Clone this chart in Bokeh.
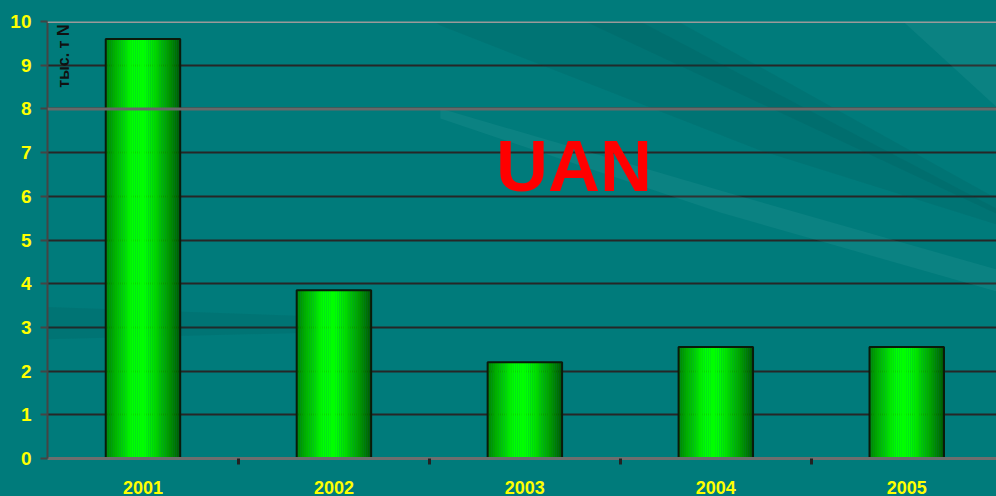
import numpy as np
from bokeh.plotting import figure
from bokeh.models import FixedTicker, Label, Span
from bokeh.embed import file_html
from bokeh.resources import INLINE

# ---- data ----
years = ["2001", "2002", "2003", "2004", "2005"]
values = [9.6, 3.85, 2.2, 2.55, 2.55]
y_ticks = [0, 1, 2, 3, 4, 5, 6, 7, 8, 9, 10]
title_text = "UAN"
unit_label = "тыс. т N"

TEAL = "#007b7b"
W, H = 996, 496

p = figure(width=W, height=H, output_backend="svg", toolbar_location=None,
           x_range=(0.5, 5.47), y_range=(0, 10),
           min_border_left=47, min_border_top=21, min_border_bottom=38, min_border_right=0)
p.background_fill_color = TEAL
p.border_fill_color = TEAL
p.outline_line_color = None

# background streaks (decorative)
def px2d(px, py):
    return 0.5 + (px - 47) / 191.0, (458 - py) / 43.7

def poly(pts):
    xs, ys = zip(*[px2d(a, b) for a, b in pts])
    return list(xs), list(ys)

dark_bands = [
    [(400, 0), (600, 0), (1000, 210), (1000, 225), (760, 150), (440, 25)],
    [(540, 0), (640, 0), (1000, 200), (1000, 215)],
    [(0, 305), (320, 316), (320, 332), (0, 340)],
]
light_bands = [
    [(440, 108), (720, 190), (1000, 270), (1000, 292), (720, 212), (440, 118)],
    [(880, 0), (1000, 0), (1000, 110)],
]
for b in dark_bands:
    xs, ys = poly(b)
    p.patch(xs, ys, fill_color="#004f4f", fill_alpha=0.14, line_color=None)
for b in light_bands:
    xs, ys = poly(b)
    p.patch(xs, ys, fill_color="#8fd8d8", fill_alpha=0.08, line_color=None)

# grid
p.xgrid.grid_line_color = None
p.ygrid.grid_line_color = "#262626"
p.ygrid.grid_line_width = 2
p.add_layout(Span(location=10, dimension="width", line_color="#9a9a9a", line_width=3))
p.add_layout(Span(location=8, dimension="width", line_color="#686868", line_width=3))

# bars with horizontal gradient (stripes)
xpos = np.arange(1, len(years) + 1)
bw = 0.39
n = 40
for k in range(n):
    t = (k + 0.5) / n
    c = max(0.0, 1 - abs(t - 0.45) / 0.55)
    g = int(0x50 + (0xff - 0x50) * min(1.0, c ** 0.8 * 1.15))
    g = min(g, 255)
    color = "#00%02x00" % g
    p.vbar(x=xpos - bw / 2 + (k + 0.5) * bw / n, width=bw / n * 1.08, top=values, bottom=0,
           fill_color=color, line_color=None)
p.vbar(x=xpos, width=bw, top=values, bottom=0, fill_color=None,
       line_color="#0a1a0a", line_width=2)

# axes
p.yaxis.ticker = FixedTicker(ticks=y_ticks)
p.yaxis.axis_line_color = "#444444"
p.yaxis.axis_line_width = 2
p.yaxis.major_tick_line_color = "#444444"
p.yaxis.major_tick_line_width = 2
p.yaxis.major_tick_out = 7
p.yaxis.major_tick_in = 0
p.yaxis.minor_tick_line_color = None
p.yaxis.major_label_text_color = "#ffff00"
p.yaxis.major_label_text_font = "Liberation Sans"
p.yaxis.major_label_text_font_style = "bold"
p.yaxis.major_label_text_font_size = "19px"
p.yaxis.major_label_standoff = 9

p.xaxis.ticker = FixedTicker(ticks=list(xpos), minor_ticks=[1.5, 2.5, 3.5, 4.5])
p.xaxis.major_label_overrides = {int(i): y for i, y in zip(xpos, years)}
p.xaxis.axis_line_color = "#6e6e6e"
p.xaxis.axis_line_width = 3
p.xaxis.major_tick_line_color = None
p.xaxis.major_tick_out = 0
p.xaxis.minor_tick_line_color = "#222222"
p.xaxis.minor_tick_line_width = 3
p.xaxis.minor_tick_out = 6
p.xaxis.minor_tick_in = 0
p.xaxis.major_label_text_color = "#ffff00"
p.xaxis.major_label_text_font = "Liberation Sans"
p.xaxis.major_label_text_font_style = "bold"
p.xaxis.major_label_text_font_size = "18px"
p.xaxis.major_label_standoff = 16

# texts
p.add_layout(Label(x=3.257, y=6.69, text=title_text, text_color="#ff0000",
                   text_font="Liberation Sans", text_font_style="bold",
                   text_font_size="72px", text_align="center", text_baseline="middle"))
p.add_layout(Label(x=0.585, y=9.93, text=unit_label, angle=np.pi / 2, text_color="#111111",
                   text_font="Liberation Sans", text_font_style="bold",
                   text_font_size="16px", text_align="right", text_baseline="middle"))

html = file_html(p, INLINE)
html = html.replace("<head>", "<head><style>html,body{background:#007b7b;}</style>", 1)
open("out.html", "w").write(html)
